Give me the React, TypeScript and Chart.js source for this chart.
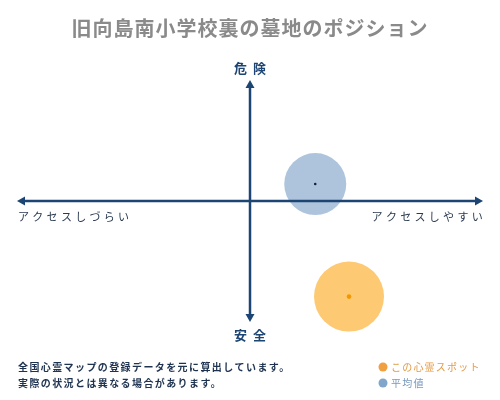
import { useEffect, useRef } from "react";
import { Chart, ChartConfiguration, registerables } from "chart.js";

Chart.register(...registerables);

// data
const chartTitle = "旧向島南小学校裏の墓地のポジション";
const axisTop = "危険";
const axisBottom = "安全";
const axisLeft = "アクセスしづらい";
const axisRight = "アクセスしやすい";
const seriesNames = ["この心霊スポット", "平均値"];
const spotX = [4.25];
const spotY = [-7.9];
const spotR = [35];
const avgX = [2.8];
const avgY = [1.4];
const avgR = [31];
const notes = [
  "全国心霊マップの登録データを元に算出しています。",
  "実際の状況とは異なる場合があります。",
];

const NAVY = "#1d4573";
const FONT = '"Noto Sans CJK JP", serif';

const overlayPlugin = {
  id: "overlay",
  afterDatasetsDraw(chart: Chart) {
    const { ctx, scales } = chart;
    const xs = scales["x"];
    const ys = scales["y"];
    const x0 = xs.getPixelForValue(0);
    const y0 = ys.getPixelForValue(0);
    const left = xs.getPixelForValue(-10);
    const right = xs.getPixelForValue(10);
    const top = ys.getPixelForValue(10);
    const bottom = ys.getPixelForValue(-10);

    ctx.save();
    ctx.strokeStyle = NAVY;
    ctx.fillStyle = NAVY;
    ctx.lineWidth = 2.5;
    ctx.beginPath();
    ctx.moveTo(left + 4, y0);
    ctx.lineTo(right - 4, y0);
    ctx.moveTo(x0, top + 4);
    ctx.lineTo(x0, bottom - 4);
    ctx.stroke();

    const head = (tx: number, ty: number, dx: number, dy: number) => {
      const px = -dy;
      const py = dx;
      ctx.beginPath();
      ctx.moveTo(tx, ty);
      ctx.lineTo(tx - dx * 8 + px * 4.5, ty - dy * 8 + py * 4.5);
      ctx.lineTo(tx - dx * 8 - px * 4.5, ty - dy * 8 - py * 4.5);
      ctx.closePath();
      ctx.fill();
    };
    head(left, y0, -1, 0);
    head(right, y0, 1, 0);
    head(x0, top, 0, -1);
    head(x0, bottom, 0, 1);
    ctx.restore();
  },
  afterDraw(chart: Chart) {
    const { ctx, scales } = chart;
    const xs = scales["x"];
    const ys = scales["y"];
    const x0 = xs.getPixelForValue(0);
    const y0 = ys.getPixelForValue(0);
    const left = xs.getPixelForValue(-10);
    const right = xs.getPixelForValue(10);
    const top = ys.getPixelForValue(10);
    const bottom = ys.getPixelForValue(-10);
    const c = ctx as CanvasRenderingContext2D & { letterSpacing: string };

    ctx.save();
    ctx.textBaseline = "middle";

    // title
    c.letterSpacing = "1px";
    ctx.font = `bold 20px ${FONT}`;
    ctx.fillStyle = "#8a8a8a";
    ctx.textAlign = "center";
    ctx.fillText(chartTitle, 250, 28);

    // vertical axis labels
    c.letterSpacing = "6px";
    ctx.font = `bold 13px ${FONT}`;
    ctx.fillStyle = NAVY;
    ctx.fillText(axisTop, x0 + 3, top - 12);
    ctx.fillText(axisBottom, x0 + 3, bottom + 13);

    // horizontal axis labels
    c.letterSpacing = "3.3px";
    ctx.font = `11px ${FONT}`;
    ctx.fillStyle = "#2a3a50";
    ctx.textAlign = "left";
    ctx.fillText(axisLeft, left + 1, y0 + 16);
    ctx.textAlign = "right";
    ctx.fillText(axisRight, right + 3, y0 + 16);

    // notes
    c.letterSpacing = "1.4px";
    ctx.font = `bold 10px ${FONT}`;
    ctx.fillStyle = "#1f3350";
    ctx.textAlign = "left";
    notes.forEach((t, i) => ctx.fillText(t, 18, 367 + i * 16));

    // legend
    const legendColors = ["#f0a040", "#80a6cc"];
    const legendText = ["#e49a45", "#7898bc"];
    seriesNames.forEach((t, i) => {
      const ly = 367 + i * 16;
      ctx.fillStyle = legendColors[i];
      ctx.beginPath();
      ctx.arc(383, ly, 4.5, 0, Math.PI * 2);
      ctx.fill();
      ctx.fillStyle = legendText[i];
      ctx.font = `10px ${FONT}`;
      c.letterSpacing = "1.2px";
      ctx.fillText(t, 391, ly);
    });
    ctx.restore();
  },
};

const App = () => {
  const canvasRef = useRef<HTMLCanvasElement | null>(null);

  useEffect(() => {
    if (!canvasRef.current) return;
    const config: ChartConfiguration = {
      type: "bubble",
      data: {
        datasets: [
          {
            label: seriesNames[1],
            data: avgX.map((x, i) => ({ x, y: avgY[i], r: avgR[i] })),
            backgroundColor: "rgba(170, 192, 218, 0.95)",
            borderWidth: 0,
            clip: false,
            order: 2,
          },
          {
            label: seriesNames[1] + "-center",
            data: avgX.map((x, i) => ({ x, y: avgY[i], r: 1.3 })),
            backgroundColor: "#142236",
            borderWidth: 0,
            clip: false,
            order: 1,
          },
          {
            label: seriesNames[0],
            data: spotX.map((x, i) => ({ x, y: spotY[i], r: spotR[i] })),
            backgroundColor: "rgba(253, 198, 108, 0.95)",
            borderWidth: 0,
            clip: false,
            order: 2,
          },
          {
            label: seriesNames[0] + "-center",
            data: spotX.map((x, i) => ({ x, y: spotY[i], r: 2.3 })),
            backgroundColor: "#f39800",
            borderWidth: 0,
            clip: false,
            order: 1,
          },
        ],
      },
      plugins: [overlayPlugin],
      options: {
        responsive: false,
        animation: false,
        layout: { autoPadding: false, padding: { left: 17, right: 17, top: 80, bottom: 78 } },
        plugins: {
          legend: { display: false },
          tooltip: { enabled: false },
        },
        scales: {
          x: { type: "linear", min: -10, max: 10, display: false },
          y: { type: "linear", min: -10, max: 10, display: false },
        },
      },
    };
    const chart = new Chart(canvasRef.current, config);
    return () => chart.destroy();
  }, []);

  return (
    <div style={{ position: "fixed", left: 0, top: 0, width: 500, height: 400, background: "#fff" }}>
      <canvas ref={canvasRef} width={500} height={400} />
    </div>
  );
};

export default App;
